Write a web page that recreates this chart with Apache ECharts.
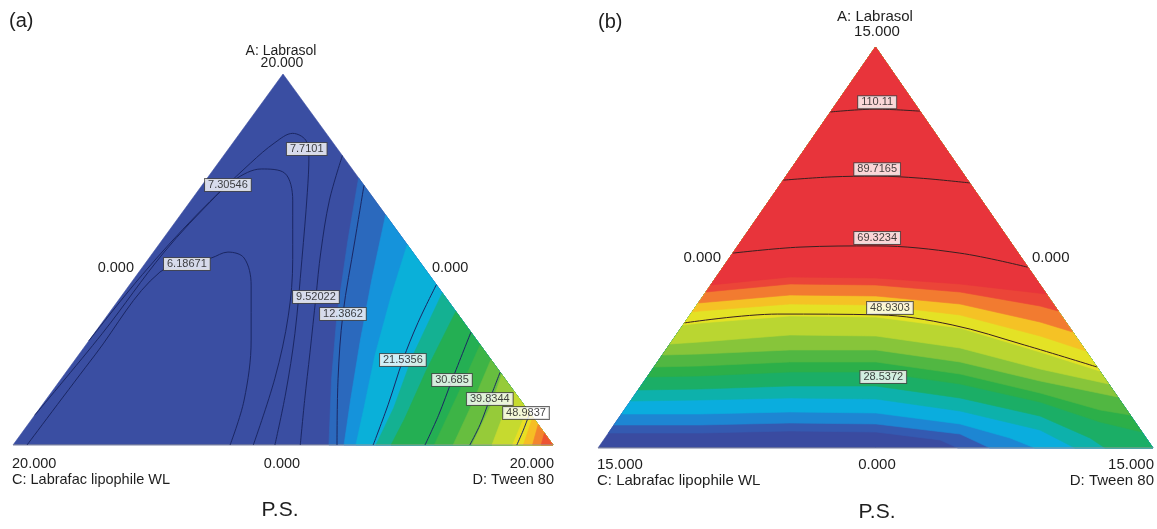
<!DOCTYPE html>
<html><head><meta charset="utf-8">
<script src="https://cdn.jsdelivr.net/npm/echarts@6/dist/echarts.min.js"></script>
<style>html,body{margin:0;padding:0;background:#fff}#c{width:1157px;height:529px}</style>
</head><body><div id="c"></div>
<script>
// ===== Panel (a): response surface, filled-band boundaries (u = % across, v = % up the triangle) =====
const aBaseValue = 6;
const aFillLevels = [12, 16, 20, 24, 28, 32, 36, 40, 44, 48, 52, 56, 60];
const aFillBounds = [
  [[64,72],[62,55],[60,35],[59,18],[58.5,0]],
  [[69,62],[66.5,45],[64.3,28],[62.5,12],[61.3,0]],
  [[73,54],[70,40],[67,24],[65,10],[63.5,0]],
  [[79.5,41],[74,24],[70.5,10],[67.2,0]],
  [[82,36],[76.5,20],[72.5,7],[70,0]],
  [[86.5,27],[82.5,14],[78,0]],
  [[88.5,23],[85,11],[81.5,0]],
  [[90.5,19],[88.6,11],[85,0]],
  [[92.75,14.5],[90.5,7],[88.7,0]],
  [[95.25,9.5],[92.5,0]],
  [[96.25,7.5],[94.5,0]],
  [[97.25,5.5],[96.2,0]],
  [[98.4,3.2],[97.8,0]]
];
const aColors = ['#3a4ea2','#3a4ea2','#3a4ea2','#3458ae','#2179cc','#08acea','#0bb4c8','#1cae5c','#2bb04a',
                 '#4fb842','#7ec33c','#aed236','#dde128','#f5dc1e','#f6a02a','#f06a30','#ea3e36'];
const aContourLevels = ['6.18671','7.30546','7.7101','9.52022','12.3862','21.5356','30.685','39.8344','48.9837'];
const aContourPaths = [
  [[2.6,0],[15.2,24.3],[27.2,46.6],[36.7,50.4],[39.8,52.0],[42.8,50.4],[44.1,43.1],[44.1,28.3],[42.8,12.1],[40.2,0]],
  [[4,8],[16.5,30],[28,52],[37.5,67],[41,71.5],[46,74.4],[50.3,73.3],[51.8,66],[51.8,50],[51,35],[48.5,18],[44.5,0]],
  [[14,28],[24,46],[34,62],[44,76],[48.5,81.5],[51.8,84],[54.2,82.2],[54.8,78],[54.5,68],[53.5,50],[52.2,30],[50.5,14],[48.5,0]],
  [[61,78],[58.6,66],[57,52],[56.1,40],[55,25],[54,12],[53.2,0]],
  [[65,70],[63.3,55],[61.1,35.3],[60.2,18],[60,0]],
  [[78.4,43.2],[75,33],[72.2,22.9],[69.5,11],[66.7,0]],
  [[84.8,30.4],[81.3,17.5],[78.8,8],[76.3,0]],
  [[90.2,19.6],[88.3,12.4],[86.5,5.5],[84.6,0]],
  [[95.7,8.6],[94.5,4],[93.3,0]]
];
const aLabelPos = [[32.2,48.8],[39.8,70.1],[54.4,79.8],[56.1,39.9],[61.1,35.3],[72.2,22.9],[81.3,17.5],[88.3,12.4],[95.0,8.6]];

// ===== Panel (b) =====
const bBaseValue = 8;
const bFillLevels = [12, 16, 20, 24, 28, 32, 36, 40, 44, 48, 52, 56, 60, 64];
const bFillBounds = [
  [[1.87,3.74],[18.38,3.74],[34.59,4.24],[50.09,3.99],[61.62,2.0],[64.86,0]],
  [[2.87,5.74],[18.38,5.74],[34.59,6.23],[50.09,5.99],[65.23,3.49],[70.63,0]],
  [[4.24,8.48],[18.38,8.48],[34.59,8.98],[50.09,8.73],[65.23,5.99],[74.23,2.49],[78.74,0]],
  [[5.86,11.72],[18.38,11.97],[34.59,12.47],[50.09,12.22],[65.23,9.23],[79.64,4.49],[85.95,0]],
  [[7.23,14.46],[18.38,14.71],[34.59,15.46],[50.09,15.46],[65.23,12.47],[79.64,7.98],[88.65,2.49],[91.35,0]],
  [[8.86,17.71],[18.38,17.96],[34.59,18.95],[50.09,18.95],[65.23,15.96],[79.64,11.47],[90.45,6.48],[98.0,3.99]],
  [[10.1,20.2],[18.38,20.45],[34.59,21.45],[50.09,21.45],[65.23,18.45],[79.64,13.72],[90.45,9.48],[95.89,8.23]],
  [[11.6,23.19],[18.38,23.44],[34.59,24.44],[50.09,24.44],[65.23,21.45],[79.64,16.71],[93.64,12.72]],
  [[12.97,25.94],[18.38,26.43],[34.59,28.18],[50.09,27.93],[65.23,24.94],[79.64,19.7],[92.02,15.96]],
  [[15.34,30.67],[18.38,31.17],[34.59,32.92],[50.09,32.67],[65.23,29.93],[79.64,23.94],[90.4,19.2]],
  [[16.96,33.92],[18.38,34.16],[34.59,35.91],[50.09,35.66],[65.23,33.17],[79.64,27.93],[87.9,24.19]],
  [[18.08,36.16],[34.59,38.15],[50.09,37.91],[65.23,35.91],[79.64,31.42],[85.54,28.93]],
  [[19.45,38.9],[34.59,40.9],[50.09,40.65],[65.23,38.9],[79.64,35.41],[82.92,34.16]],
  [[20.32,40.65],[34.59,42.64],[50.09,42.39],[65.23,40.9],[80.8,38.4]]
];
const bColors = ['#3a4a9c','#3a4a9c','#3a4ba0','#3a4ea3','#2d66bf','#0da6e6','#06b3d6','#13af80','#22ad4c',
                 '#35b146','#6cbd3d','#a2cd36','#d2df2b','#f5e41e','#f5a02b','#ee5534','#e8343b'];
const bContourLevels = ['110.11','89.7165','69.3234','48.9303'];
const bContourPaths = [
  [[41.9,83.8],[50.1,84.5],[58.0,84.0]],
  [[33.4,66.8],[42,67.6],[50.1,67.8],[58,67.3],[67.0,66.1]],
  [[24.3,48.6],[36.4,50.1],[50.1,50.4],[65.2,48.6],[77.4,45.1]],
  [[15.6,31.2],[32.4,33.4],[50.6,33.2],[63.8,30.7],[76.8,25.7],[89.9,20.2]]
];
const bLabelNames = ['110.11','89.7165','69.3234','48.9303','28.5372'];
const bLabelPos = [[50.3,86.2],[50.3,69.5],[50.3,52.4],[52.6,34.9],[51.4,17.7]];

// ===== text =====
const aTexts = {panel:'(a)', top:'A: Labrasol', topVal:'20.000', side:'0.000', left:'20.000', mid:'0.000', right:'20.000',
  cName:'C: Labrafac lipophile WL', dName:'D: Tween 80', title:'P.S.'};
const bTexts = {panel:'(b)', top:'A: Labrasol', topVal:'15.000', side:'0.000', left:'15.000', mid:'0.000', right:'15.000',
  cName:'C: Labrafac lipophile WL', dName:'D: Tween 80', title:'P.S.'};

// ===== rendering helpers =====
const CORNERS = [[0,0],[50,100],[100,0]];
function perim(p){ const u=p[0], v=p[1]; if (v < 0.3) return 2 + (100-u)/100; if (u <= 50) return v/100; return 1 + (100-v)/100; }
function closing(end, start){
  const se = perim(end); let ss = perim(start); if (ss >= se) ss -= 3;
  const out = []; [2,1,0,-1].forEach(c => { if (c < se && c > ss) out.push(CORNERS[(c+3)%3]); });
  return out;
}
function fillSeries(g, levels, bounds, base){
  const data = [[-1, base]].concat(levels.map((L,i) => [i, L + 2]));
  return {
    type:'custom', xAxisIndex:g, yAxisIndex:g, data, silent:true, animation:false, z:1,
    renderItem:(params, api) => {
      const i = api.value(0);
      let poly;
      if (i < 0) poly = CORNERS.slice();
      else { const b = bounds[i]; poly = b.concat(closing(b[b.length-1], b[0])); }
      const col = api.visual('color');
      return {type:'polygon', shape:{points: poly.map(p => api.coord(p))}, style:{fill:col, stroke:col, lineWidth:0.6}};
    }
  };
}
function contourSeries(g, paths, color){
  return paths.map(p => ({type:'line', xAxisIndex:g, yAxisIndex:g, data:p, showSymbol:false, smooth:0.35,
    lineStyle:{color, width:1}, silent:true, animation:false, z:3}));
}
function labelSeries(g, names, pos){
  return {type:'scatter', xAxisIndex:g, yAxisIndex:g, symbolSize:1, itemStyle:{color:'rgba(0,0,0,0)'}, silent:true, animation:false, z:5,
    data: names.map((n,i) => ({name:n, value:pos[i]})),
    label:{show:true, position:'inside', formatter:'{b}', fontSize:11, lineHeight:11, fontFamily:'Liberation Sans, Arial, sans-serif',
      color:'#111', backgroundColor:'#ffffff', borderColor:'#444', borderWidth:1, padding:[1,3,0,3]}};
}
function baseLine(g){
  return {type:'line', xAxisIndex:g, yAxisIndex:g, data:[[0,0],[100,0]], showSymbol:false, lineStyle:{color:'#9a9a9a', width:1}, silent:true, animation:false, z:2};
}

const series = [];
series.push(fillSeries(0, aFillLevels, aFillBounds, aBaseValue));   // index 0
series.push(fillSeries(1, bFillLevels, bFillBounds, bBaseValue));   // index 1
series.push(...contourSeries(0, aContourPaths, '#1b2763'));
series.push(...contourSeries(1, bContourPaths, '#3a2020'));
series.push(baseLine(0), baseLine(1));
series.push(labelSeries(0, aContourLevels, aLabelPos));
series.push(labelSeries(1, bLabelNames, bLabelPos));

const axisBase = {type:'value', min:0, max:100, show:false};
const FONT = '"Liberation Sans", Arial, sans-serif';
function txt(text, x, y, size, align){
  return {type:'text', x, y, silent:true, style:{text, font: size + 'px ' + FONT, fill:'#1e1e1e', textAlign:align||'center', textVerticalAlign:'middle', verticalAlign:'middle'}};
}
const graphic = [
  txt(aTexts.panel, 9, 21, 20, 'left'),
  txt(aTexts.top, 281, 51, 14),
  txt(aTexts.topVal, 282, 63, 14),
  txt(aTexts.side, 134, 268, 14.5, 'right'),
  txt(aTexts.side, 432, 268, 14.5, 'left'),
  txt(aTexts.left, 12, 464, 14.5, 'left'),
  txt(aTexts.mid, 282, 464, 14.5),
  txt(aTexts.right, 554, 464, 14.5, 'right'),
  txt(aTexts.cName, 12, 480, 14.5, 'left'),
  txt(aTexts.dName, 554, 480, 14.5, 'right'),
  txt(aTexts.title, 280, 510, 21),
  txt(bTexts.panel, 598, 22, 20, 'left'),
  txt(bTexts.top, 875, 17, 15),
  txt(bTexts.topVal, 877, 32, 15),
  txt(bTexts.side, 721, 258, 15, 'right'),
  txt(bTexts.side, 1032, 258, 15, 'left'),
  txt(bTexts.left, 597, 465, 15, 'left'),
  txt(bTexts.mid, 877, 465, 15),
  txt(bTexts.right, 1154, 465, 15, 'right'),
  txt(bTexts.cName, 597, 481, 15, 'left'),
  txt(bTexts.dName, 1154, 481, 15, 'right'),
  txt(bTexts.title, 877, 512, 21)
];

const chart = echarts.init(document.getElementById('c'), null, {renderer:'canvas'});
chart.setOption({
  animation:false,
  backgroundColor:'#ffffff',
  grid:[{left:13, top:74, width:540, height:371}, {left:598, top:47, width:555, height:401}],
  xAxis:[Object.assign({gridIndex:0}, axisBase), Object.assign({gridIndex:1}, axisBase)],
  yAxis:[Object.assign({gridIndex:0}, axisBase), Object.assign({gridIndex:1}, axisBase)],
  visualMap:[
    {type:'continuous', show:false, seriesIndex:0, dimension:1, min:0, max:64, inRange:{color:aColors}},
    {type:'continuous', show:false, seriesIndex:1, dimension:1, min:0, max:64, inRange:{color:bColors}}
  ],
  graphic,
  series
});
</script></body></html>
